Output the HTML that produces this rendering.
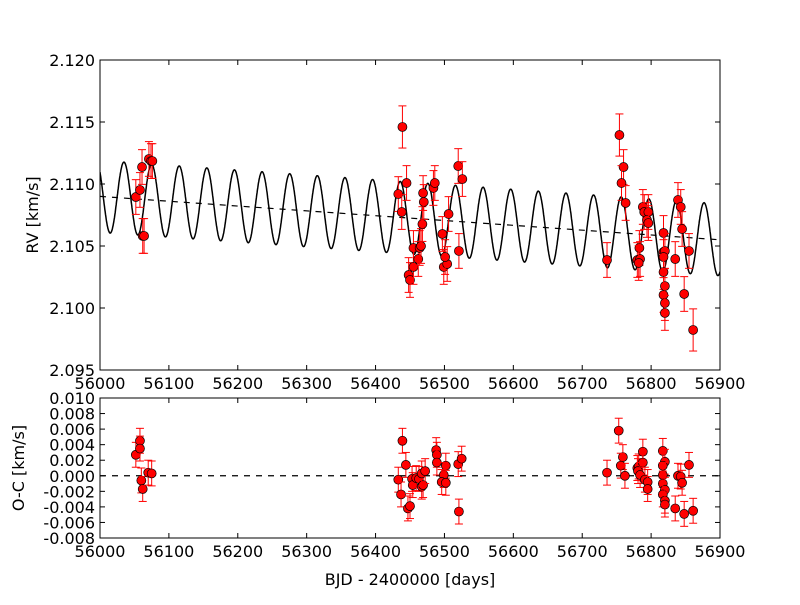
<!DOCTYPE html>
<html><head><meta charset="utf-8"><style>
body{margin:0;background:#fff}
svg text{font-family:"DejaVu Sans","Liberation Sans",sans-serif;font-size:16px;fill:#000}
</style></head><body>
<svg id="c" width="800" height="600"></svg>
<script>
const rvDays=[56052,56058,56061,56062,56064,56071,56074,56076,
56439,56433,56445,56438,56455,56448,56450,56455,56462,56464,56466,56468,56470,56469,56484,56486,56506,56497,56499,56504,56501,56520,56526,56521,
56736,56754,56760,56757,56763,56780,56783,56784,56782,56788,56790,56796,56794,56796,56818,56818,56820,56818,56818,56820,56818,56820,56820,56835,56839,56843,56845,56855,56848,56861];
const rvValues=[2.10895,2.10952,2.11137,2.10581,2.10581,2.11202,2.11185,2.11185,
2.11460,2.10919,2.11008,2.10774,2.10484,2.10266,2.10226,2.10331,2.10395,2.10484,2.10500,2.10677,2.10855,2.10927,2.10968,2.11008,2.10758,2.10597,2.10331,2.10355,2.10411,2.11145,2.11040,2.10460,
2.10387,2.11395,2.11137,2.11008,2.10847,2.10387,2.10484,2.10395,2.10363,2.10815,2.10774,2.10774,2.10710,2.10685,2.10605,2.10452,2.10460,2.10411,2.10290,2.10177,2.10105,2.10040,2.09960,2.10395,2.10871,2.10815,2.10637,2.10460,2.10113,2.09823];
const rvErr=rvValues.map((v,i)=> (i===8||i===33||i===61)?0.0017:0.0014);
const ocDays=[56052,56058,56060,56062,56070,56075,56058,
56439,56433,56444,56437,56447,56450,56453,56454,56459,56463,56467,56469,56467,56472,56488,56489,56489,56502,56499,56496,56502,56520,56525,56521,
56736,56753,56759,56756,56762,56780,56782,56781,56788,56788,56784,56791,56795,56795,56817,56820,56817,56817,56817,56820,56817,56820,56820,56835,56839,56843,56845,56855,56848,56861];
const ocValues=[0.0027,0.0045,-0.0006,-0.0017,0.0004,0.0003,0.0035,
0.0045,-0.0005,0.0014,-0.0024,-0.0042,-0.0039,-0.0004,-0.0012,-0.0003,-0.0004,-0.0014,-0.0012,0.0003,0.0006,0.0033,0.0027,0.0017,0.0013,0.0001,-0.0008,-0.0009,0.0015,0.0022,-0.0046,
0.0004,0.0058,0.0024,0.0013,0.0,0.0010,0.0012,0.0006,0.0031,0.0017,0.0001,-0.0005,-0.0008,-0.0017,0.0032,0.0018,0.0013,0.0001,-0.0010,-0.0018,-0.0024,-0.0032,-0.0037,-0.0042,0.0,-0.0001,-0.0009,0.0014,-0.0049,-0.0045];
const xTicks=[56000,56100,56200,56300,56400,56500,56600,56700,56800,56900];
const yTicks=[2.095,2.100,2.105,2.110,2.115,2.120];
const ocTicks=[-0.008,-0.006,-0.004,-0.002,0,0.002,0.004,0.006,0.008,0.010];
const trend=[2.1090,2.1055];
const period=40.1, amp=0.0029, peakDay=56034.8;

const NS="http://www.w3.org/2000/svg",svg=document.getElementById('c');
function el(t,a,p){const e=document.createElementNS(NS,t);for(const k in a)e.setAttribute(k,a[k]);(p||svg).appendChild(e);return e;}
const L=100,R=720,T1=60,B1=370,T2=398,B2=538;
const sx=d=>L+(d-56000)/900*(R-L);
const sy=v=>T1+(2.120-v)/0.025*(B1-T1);
const so=v=>T2+(0.010-v)/0.018*(B2-T2);
const tr=d=>trend[0]+(trend[1]-trend[0])*(d-56000)/900;
function clip(id,t,b){const cp=el('clipPath',{id});el('rect',{x:L,y:t,width:R-L,height:b-t},cp);}
clip('c1',T1,B1);clip('c2',T2,B2);
let dp='';for(let d=56000;d<=56900;d+=0.5){const v=tr(d)+amp*Math.cos(2*Math.PI*(d-peakDay)/period);dp+=(dp?'L':'M')+sx(d).toFixed(1)+','+sy(v).toFixed(1);}
const m=el('path',{d:dp,fill:'none',stroke:'#000','stroke-width':1.5,'clip-path':'url(#c1)'});

const tl=el('line',{x1:sx(56000),y1:sy(tr(56000)),x2:sx(56900),y2:sy(tr(56900)),stroke:'#000','stroke-width':1.2,'stroke-dasharray':'6,6'});

const zl=el('line',{x1:L,y1:so(0),x2:R,y2:so(0),stroke:'#000','stroke-width':1.2,'stroke-dasharray':'6,6'});

function pt(x,y,e,name,cp){
 const g=el('g',{'clip-path':cp});
 
 el('line',{x1:x,y1:y-e,x2:x,y2:y+e,stroke:'red','stroke-width':1},g);
 el('line',{x1:x-4,y1:y-e,x2:x+4,y2:y-e,stroke:'red','stroke-width':1},g);
 el('line',{x1:x-4,y1:y+e,x2:x+4,y2:y+e,stroke:'red','stroke-width':1},g);
 el('circle',{cx:x,cy:y,r:4.5,fill:'red',stroke:'#000','stroke-width':0.7},g);
}
rvDays.forEach((d,i)=>pt(sx(d),sy(rvValues[i]),rvErr[i]*12400,'rv-point','url(#c1)'));
ocDays.forEach((d,i)=>pt(sx(d),so(ocValues[i]),0.0016*7778,'residual-point','url(#c2)'));
function frame(t,b,name){const r=el('rect',{x:L,y:t,width:R-L,height:b-t,fill:'none',stroke:'#000','stroke-width':1});}
frame(T1,B1,'rv-panel');frame(T2,B2,'oc-panel');
xTicks.forEach(t=>{const x=sx(t);
 [[T1,B1],[T2,B2]].forEach(([a,b])=>{el('line',{x1:x,y1:b,x2:x,y2:b-5,stroke:'#000'});el('line',{x1:x,y1:a,x2:x,y2:a+5,stroke:'#000'});
  const tx=el('text',{x:x,y:b+19,'text-anchor':'middle'});tx.textContent=t;});
});
yTicks.forEach(t=>{const y=sy(t);el('line',{x1:L,y1:y,x2:L+5,y2:y,stroke:'#000'});el('line',{x1:R,y1:y,x2:R-5,y2:y,stroke:'#000'});
 const tx=el('text',{x:L-5,y:y+6,'text-anchor':'end'});tx.textContent=t.toFixed(3);});
ocTicks.forEach(t=>{const y=so(t);el('line',{x1:L,y1:y,x2:L+5,y2:y,stroke:'#000'});el('line',{x1:R,y1:y,x2:R-5,y2:y,stroke:'#000'});
 const tx=el('text',{x:L-5,y:y+6,'text-anchor':'end'});tx.textContent=t.toFixed(3);});
let t1=el('text',{x:38,y:215,'text-anchor':'middle',transform:'rotate(-90 38 215)'});t1.textContent='RV [km/s]';

let t2=el('text',{x:24,y:468,'text-anchor':'middle',transform:'rotate(-90 24 468)'});t2.textContent='O-C [km/s]';

let t3=el('text',{x:410,y:585,'text-anchor':'middle'});t3.textContent='BJD - 2400000 [days]';

</script>
</body></html>
